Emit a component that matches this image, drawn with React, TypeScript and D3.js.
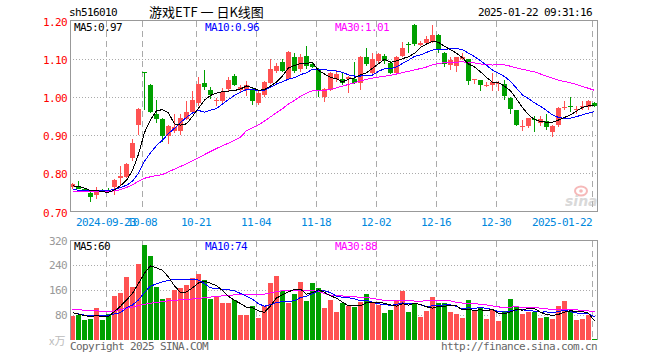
import React from "react";
import * as d3 from "d3";

const dates = [
  "2024-09-11","2024-09-12","2024-09-13","2024-09-18","2024-09-19","2024-09-20","2024-09-23","2024-09-24","2024-09-25","2024-09-26",
  "2024-09-27","2024-09-30","2024-10-08","2024-10-09","2024-10-10","2024-10-11","2024-10-14","2024-10-15","2024-10-16","2024-10-17",
  "2024-10-18","2024-10-21","2024-10-22","2024-10-23","2024-10-24","2024-10-25","2024-10-28","2024-10-29","2024-10-30","2024-10-31",
  "2024-11-01","2024-11-04","2024-11-05","2024-11-06","2024-11-07","2024-11-08","2024-11-11","2024-11-12","2024-11-13","2024-11-14",
  "2024-11-15","2024-11-18","2024-11-19","2024-11-20","2024-11-21","2024-11-22","2024-11-25","2024-11-26","2024-11-27","2024-11-28",
  "2024-11-29","2024-12-02","2024-12-03","2024-12-04","2024-12-05","2024-12-06","2024-12-09","2024-12-10","2024-12-11","2024-12-12",
  "2024-12-13","2024-12-16","2024-12-17","2024-12-18","2024-12-19","2024-12-20","2024-12-23","2024-12-24","2024-12-25","2024-12-26",
  "2024-12-27","2024-12-30","2024-12-31","2025-01-02","2025-01-03","2025-01-06","2025-01-07","2025-01-08","2025-01-09","2025-01-10",
  "2025-01-13","2025-01-14","2025-01-15","2025-01-16","2025-01-17","2025-01-20","2025-01-21","2025-01-22"
];

const openP = [
  0.763,0.767,0.760,0.748,0.742,0.757,0.757,0.763,0.789,0.790,
  0.840,0.927,1.066,1.032,0.954,0.943,0.897,0.910,0.910,0.943,
  0.961,0.984,1.037,1.017,0.988,0.989,1.020,1.056,1.018,1.017,
  1.019,0.984,1.006,1.037,1.068,1.091,1.047,1.104,1.072,1.107,
  1.085,1.072,1.000,1.019,1.046,1.047,1.048,1.047,1.037,1.104,
  1.063,1.094,1.107,1.089,1.063,1.107,1.138,1.188,1.135,1.140,
  1.144,1.162,1.116,1.083,1.081,1.098,1.098,1.047,1.043,1.031,
  1.032,1.036,1.034,0.996,0.967,0.924,0.924,0.941,0.932,0.938,
  0.908,0.927,0.972,0.975,0.968,0.973,0.974,0.984
];
const highP = [
  0.775,0.780,0.762,0.750,0.764,0.758,0.762,0.785,0.818,0.827,
  0.891,0.970,1.066,1.035,0.993,0.944,0.926,0.956,0.956,0.988,
  1.016,1.052,1.070,1.025,0.998,1.022,1.053,1.060,1.030,1.041,
  1.022,1.015,1.041,1.100,1.088,1.098,1.121,1.116,1.111,1.133,
  1.090,1.076,1.024,1.065,1.070,1.063,1.055,1.091,1.106,1.129,
  1.116,1.116,1.112,1.093,1.107,1.143,1.144,1.190,1.147,1.160,
  1.188,1.164,1.118,1.105,1.105,1.116,1.100,1.048,1.043,1.040,
  1.063,1.041,1.043,0.999,0.967,0.940,0.945,0.949,0.949,0.956,
  0.926,0.974,0.989,1.001,0.977,0.989,0.991,0.987
];
const lowP = [
  0.760,0.758,0.750,0.726,0.734,0.751,0.752,0.743,0.770,0.788,
  0.831,0.901,0.967,0.958,0.932,0.882,0.876,0.906,0.901,0.940,
  0.958,0.976,1.017,0.995,0.975,0.985,1.013,1.028,1.012,1.002,
  0.980,0.980,1.000,1.033,1.062,1.065,1.043,1.063,1.064,1.072,
  1.075,1.000,0.986,1.015,1.040,1.030,1.010,1.033,1.018,1.080,
  1.060,1.090,1.085,1.060,1.060,1.105,1.116,1.133,1.133,1.137,
  1.140,1.116,1.078,1.070,1.065,1.096,1.032,1.033,1.015,1.027,
  1.015,1.015,0.993,0.955,0.923,0.912,0.918,0.907,0.925,0.914,
  0.896,0.922,0.965,0.960,0.956,0.967,0.967,0.973
];
const closeP = [
  0.771,0.760,0.752,0.739,0.754,0.753,0.754,0.783,0.794,0.825,
  0.880,0.969,1.065,0.960,0.943,0.897,0.925,0.921,0.944,0.961,
  0.993,1.035,1.025,1.006,0.991,1.012,1.043,1.031,1.027,1.030,
  0.989,1.010,1.039,1.074,1.082,1.068,1.118,1.068,1.104,1.081,
  1.078,1.015,1.021,1.063,1.059,1.037,1.052,1.037,1.104,1.085,
  1.098,1.111,1.094,1.063,1.105,1.127,1.137,1.138,1.140,1.151,
  1.161,1.125,1.085,1.096,1.104,1.104,1.041,1.048,1.031,1.032,
  1.039,1.037,1.002,0.968,0.927,0.925,0.944,0.940,0.941,0.920,
  0.925,0.971,0.974,0.974,0.969,0.975,0.989,0.975
];
const volume = [
  77,80,64,67,103,64,83,141,151,204,
  170,244,305,270,170,132,135,161,168,176,
  199,212,193,132,139,119,119,129,80,80,
  108,70,108,183,206,158,120,147,187,125,
  183,168,103,129,91,118,110,106,123,148,
  120,114,86,96,129,158,90,118,75,93,
  138,118,118,91,84,72,129,97,105,67,
  97,62,93,132,109,84,91,91,70,75,
  67,109,126,93,64,67,80,3
];

const ma5Head = [0.767, 0.766, 0.761, 0.755];
const ma10Head = [0.757, 0.756, 0.755, 0.755, 0.755, 0.755, 0.755, 0.758, 0.763];
const ma30Head = [
  0.752,0.752,0.752,0.752,0.752,0.752,0.752,0.754,0.757,0.763,
  0.770,0.779,0.787,0.791,0.794,0.797,0.804,0.811,0.818,0.825,
  0.833,0.841,0.849,0.857,0.865,0.872,0.879,0.886,0.895
];
const vma5Head = [88, 83, 78, 76];
const vma10Head = [88, 84, 80, 78, 78, 79, 80, 84, 88];
const vma30Head = [
  98,97,96,95,94,92,91,94,98,102,
  106,111,115,118,121,123,126,128,129,131,
  132,134,136,138,140,142,144,145,145
];

const priceTicks = [1.2, 1.1, 1.0, 0.9, 0.8, 0.7];
const volTicks = [320, 240, 160, 80];
const tickDates = ["2024-09-23","2024-10-08","2024-10-21","2024-11-04","2024-11-18","2024-12-02","2024-12-16","2024-12-30","2025-01-22"];
const tickLabels = ["2024-09-23","10-08","10-21","11-04","11-18","12-02","12-16","12-30","2025-01-22"];

function movingAvg(arr: number[], n: number, head: number[]) {
  return arr.map((_, i) => {
    if (i < head.length) return head[i];
    return d3.mean(arr.slice(i - n + 1, i + 1)) as number;
  });
}

const RED = "#ff5252";
const GREEN = "#00a000";
const MONO = "DejaVu Sans Mono";

export default function App() {
  const x = d3.scaleBand<string>().domain(dates).range([70, 597]).paddingInner(1 / 6).paddingOuter(0);
  const yP = d3.scaleLinear().domain([0.7, 1.2]).range([211.5, 20.5]);
  const yV = d3.scaleLinear().domain([0, 320]).range([340, 240.5]);
  const bw = x.bandwidth();
  const cx = (d: string) => (x(d) as number) + 2.5;

  const ma5 = movingAvg(closeP, 5, ma5Head);
  const ma10 = movingAvg(closeP, 10, ma10Head);
  const ma30 = movingAvg(closeP, 30, ma30Head);
  const vma5 = movingAvg(volume, 5, vma5Head);
  const vma10 = movingAvg(volume, 10, vma10Head);
  const vma30 = movingAvg(volume, 30, vma30Head);

  const lineP = d3.line<number>().x((_, i) => cx(dates[i])).y((v) => yP(v));
  const lineV = d3.line<number>().x((_, i) => cx(dates[i])).y((v) => yV(v));

  const txt = { fontFamily: MONO, fontSize: 11, letterSpacing: "-0.62px" } as React.CSSProperties;
  const snap = (v: number) => Math.round(v) + 0.5;

  return (
    <>
      <style>{"body{margin:0}"}</style>
      <svg width={660} height={360} style={{ display: "block", background: "#fff" }}>
        {/* header */}
        <text x={69} y={16} style={txt} fill="#000">sh516010</text>
        <text x={149} y={17} fontFamily="Noto Sans CJK SC" fontSize={13} fill="#000" style={{ whiteSpace: "pre" }}>游戏ETF 一 日K线图</text>
        <text x={478} y={16} style={txt} fill="#000">2025-01-22 09:31:16</text>

        {/* grid */}
        {priceTicks.slice(1, 5).map((t) => (
          <line key={"pg" + t} x1={70} x2={597} y1={snap(yP(t))} y2={snap(yP(t))} stroke="#aaa" strokeDasharray="1,2" shapeRendering="crispEdges" />
        ))}
        {volTicks.slice(1).map((t) => (
          <line key={"vg" + t} x1={70} x2={597} y1={snap(yV(t))} y2={snap(yV(t))} stroke="#aaa" strokeDasharray="1,2" shapeRendering="crispEdges" />
        ))}
        {tickDates.map((d) => (
          <g key={"vl" + d}>
            <line x1={(x(d) as number) + 0.5} x2={(x(d) as number) + 0.5} y1={21} y2={211} stroke="#aaa" strokeDasharray="6,4" shapeRendering="crispEdges" />
            <line x1={(x(d) as number) + 0.5} x2={(x(d) as number) + 0.5} y1={241} y2={340} stroke="#aaa" strokeDasharray="6,4" shapeRendering="crispEdges" />
          </g>
        ))}

        {/* sina watermark */}
        <g opacity={0.55}>
          <ellipse cx={581} cy={191} rx={6} ry={4.5} fill="none" stroke="#f08080" strokeWidth={2} />
          <circle cx={581} cy={191} r={1.8} fill="#f08080" />
          <text x={565} y={206} fontFamily="DejaVu Sans" fontStyle="italic" fontWeight="bold" fontSize={14} fill="#bbb">sina</text>
        </g>

        {/* candles */}
        {dates.map((d, i) => {
          const up = closeP[i] >= openP[i];
          const col = up ? RED : GREEN;
          const x0 = x(d) as number;
          const top = yP(Math.max(openP[i], closeP[i]));
          const bot = yP(Math.min(openP[i], closeP[i]));
          return (
            <g key={"c" + d} shapeRendering="crispEdges">
              <line x1={x0 + 2.5} x2={x0 + 2.5} y1={yP(highP[i])} y2={yP(lowP[i])} stroke={col} />
              <rect x={x0} y={top} width={bw} height={Math.max(1, bot - top)} fill={col} />
            </g>
          );
        })}
        {/* price MAs */}
        <path d={lineP(ma30) as string} fill="none" stroke="#ff00ff" strokeWidth={1} shapeRendering="crispEdges" />
        <path d={lineP(ma10) as string} fill="none" stroke="#0000ff" strokeWidth={1} shapeRendering="crispEdges" />
        <path d={lineP(ma5) as string} fill="none" stroke="#000" strokeWidth={1} shapeRendering="crispEdges" />

        {/* price frame */}
        <rect x={70.5} y={20.5} width={527} height={191} fill="none" stroke="#999" shapeRendering="crispEdges" />
        {priceTicks.map((t) => (
          <text key={"pt" + t} x={67} y={yP(t) + 5} textAnchor="end" style={txt} fill="#f00">{t.toFixed(2)}</text>
        ))}
        <text x={74} y={31} style={txt} fill="#000">MA5:0.97</text>
        <text x={205} y={31} style={txt} fill="#0000ff">MA10:0.96</text>
        <text x={335} y={31} style={txt} fill="#ff00ff">MA30:1.01</text>

        {/* date labels */}
        {tickDates.map((d, i) => (
          <text key={"dl" + d} x={i === tickDates.length - 1 ? 592 : (x(d) as number)} y={226} textAnchor={i === tickDates.length - 1 ? "end" : "middle"} style={txt} fill="#0088dd">{tickLabels[i]}</text>
        ))}

        {/* volume bars */}
        {dates.map((d, i) => {
          const up = closeP[i] >= openP[i];
          return (
            <rect key={"v" + d} x={x(d) as number} y={yV(volume[i])} width={bw} height={340 - yV(volume[i])} fill={up ? RED : GREEN} shapeRendering="crispEdges" />
          );
        })}
        <path d={lineV(vma30) as string} fill="none" stroke="#ff00ff" strokeWidth={1} shapeRendering="crispEdges" />
        <path d={lineV(vma10) as string} fill="none" stroke="#0000ff" strokeWidth={1} shapeRendering="crispEdges" />
        <path d={lineV(vma5) as string} fill="none" stroke="#000" strokeWidth={1} shapeRendering="crispEdges" />

        {/* volume frame */}
        <path d="M70.5,340 V240.5 H597.5 V340" fill="none" stroke="#999" shapeRendering="crispEdges" />
        {volTicks.map((t) => (
          <text key={"vt" + t} x={67} y={yV(t) + 4} textAnchor="end" style={txt} fill="#999">{t}</text>
        ))}
        <text x={49} y={345} fontFamily="Noto Sans CJK SC" fontSize={11} fill="#bbb">x万</text>
        <text x={74} y={250} style={txt} fill="#000">MA5:60</text>
        <text x={205} y={250} style={txt} fill="#0000ff">MA10:74</text>
        <text x={335} y={250} style={txt} fill="#ff00ff">MA30:88</text>

        {/* footer */}
        <text x={70} y={350} style={txt} fill="#666">Copyright 2025 SINA.COM</text>
        <text x={597} y={350} textAnchor="end" style={txt} fill="#666">http://finance.sina.com.cn</text>
      </svg>
    </>
  );
}
